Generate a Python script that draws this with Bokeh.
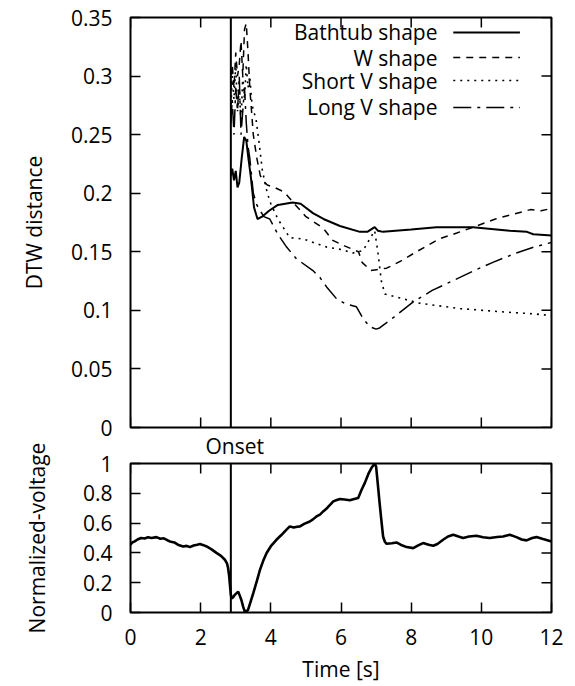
import math
from bokeh.plotting import figure
from bokeh.layouts import column
from bokeh.models import FixedTicker, Span, Label, CustomJSTickFormatter, Title
from bokeh.embed import file_html
from bokeh.resources import INLINE

FONT = "Open Sans"
FS = "21px"

# ---------------- data ----------------
bath_t = [2.86, 2.9, 2.95, 3.0, 3.05, 3.1, 3.17, 3.24, 3.3, 3.36, 3.43, 3.52, 3.62, 3.75, 3.95,
          4.2, 4.62, 4.85, 5.2, 5.5, 5.97, 6.54, 6.75, 6.96, 7.05, 7.2, 8.0, 8.72, 9.76, 10.81,
          11.3, 11.48, 12.0]
bath_v = [0.215, 0.221, 0.211, 0.219, 0.205, 0.209, 0.23, 0.248, 0.245, 0.23, 0.214, 0.188,
          0.178, 0.18, 0.185, 0.19, 0.192, 0.191, 0.183, 0.178, 0.172, 0.167, 0.167, 0.171,
          0.168, 0.167, 0.169, 0.171, 0.171, 0.168, 0.167, 0.165, 0.164]

w_t = [2.86, 2.9, 2.95, 3.0, 3.05, 3.1, 3.15, 3.2, 3.25, 3.3, 3.35, 3.4, 3.45, 3.5, 3.6, 3.7,
       3.8, 3.9, 4.1, 4.38, 4.7, 5.0, 5.5, 5.75, 6.1, 6.5, 6.6, 6.85, 7.3, 7.7, 8.15, 8.8, 9.3,
       9.86, 10.4, 10.9, 11.4, 11.7, 12.0]
w_v = [0.29, 0.31, 0.29, 0.32, 0.30, 0.31, 0.33, 0.30, 0.34, 0.345, 0.32, 0.29, 0.27, 0.25,
       0.23, 0.215, 0.21, 0.207, 0.205, 0.201, 0.19, 0.18, 0.17, 0.16, 0.155, 0.15, 0.141,
       0.134, 0.136, 0.142, 0.15, 0.161, 0.166, 0.172, 0.178, 0.182, 0.186, 0.185, 0.187]

sv_t = [2.86, 2.9, 2.95, 3.0, 3.05, 3.1, 3.15, 3.2, 3.25, 3.3, 3.35, 3.4, 3.45, 3.5, 3.57,
        3.67, 3.76, 3.9, 4.0, 4.2, 4.54, 4.92, 5.3, 5.59, 6.0, 6.34, 6.63, 6.8, 6.96, 7.05,
        7.15, 7.25, 7.5, 8.25, 9.4, 10.7, 11.5, 12.0]
sv_v = [0.27, 0.30, 0.28, 0.31, 0.27, 0.29, 0.26, 0.30, 0.28, 0.31, 0.29, 0.30, 0.28, 0.27,
        0.265, 0.242, 0.219, 0.2, 0.191, 0.178, 0.162, 0.161, 0.157, 0.154, 0.152, 0.149,
        0.151, 0.16, 0.168, 0.15, 0.125, 0.114, 0.112, 0.106, 0.1015, 0.0985, 0.097, 0.0955]

lv_t = [2.86, 2.9, 2.95, 3.0, 3.05, 3.1, 3.15, 3.2, 3.25, 3.3, 3.35, 3.4, 3.45, 3.5, 3.6, 3.7,
        3.8, 3.97, 4.2, 4.45, 4.73, 5.2, 5.4, 5.59, 5.87, 6.1, 6.44, 6.63, 6.82, 7.0, 7.1, 7.5,
        8.05, 8.6, 9.2, 9.8, 10.33, 11.0, 11.5, 12.0]
lv_v = [0.26, 0.28, 0.25, 0.29, 0.27, 0.30, 0.25, 0.27, 0.29, 0.26, 0.24, 0.23, 0.215, 0.2,
        0.19, 0.185, 0.18, 0.178, 0.165, 0.154, 0.144, 0.134, 0.128, 0.12, 0.11, 0.106, 0.103,
        0.093, 0.086, 0.084, 0.085, 0.094, 0.107, 0.117, 0.1255, 0.134, 0.141, 0.149, 0.154,
        0.158]

volt_t = [0.0, 0.05, 0.12, 0.2, 0.3, 0.4, 0.5, 0.6, 0.74, 0.85, 0.95, 1.05, 1.12, 1.25, 1.35,
          1.5, 1.6, 1.69, 1.8, 1.9, 1.98, 2.08, 2.17, 2.3, 2.45, 2.58, 2.69, 2.75, 2.78, 2.81,
          2.83, 2.86, 2.88, 2.92, 2.98, 3.07, 3.12, 3.16, 3.21, 3.26, 3.31, 3.35, 3.42, 3.5,
          3.6, 3.69, 3.78, 3.88, 4.0, 4.16, 4.3, 4.42, 4.54, 4.65, 4.75, 4.83, 4.95, 5.11, 5.2,
          5.3, 5.4, 5.5, 5.6, 5.7, 5.78, 5.88, 5.97, 6.1, 6.25, 6.35, 6.49, 6.58, 6.68, 6.78,
          6.87, 6.93, 6.96, 7.0, 7.05, 7.1, 7.15, 7.2, 7.25, 7.3, 7.45, 7.58, 7.7, 7.87, 8.06,
          8.2, 8.34, 8.5, 8.63, 8.75, 8.91, 9.05, 9.2, 9.35, 9.48, 9.65, 9.86, 10.05, 10.24,
          10.45, 10.62, 10.81, 11.0, 11.15, 11.29, 11.45, 11.57, 11.76, 11.88, 12.0]
volt_v = [0.455, 0.47, 0.477, 0.49, 0.50, 0.497, 0.505, 0.50, 0.506, 0.495, 0.498, 0.485, 0.477,
          0.47, 0.455, 0.443, 0.447, 0.439, 0.45, 0.455, 0.46, 0.452, 0.443, 0.425, 0.40, 0.38,
          0.354, 0.33, 0.30, 0.25, 0.197, 0.12, 0.096, 0.10, 0.12, 0.14, 0.11, 0.084, 0.04,
          0.005, 0.01, 0.017, 0.07, 0.13, 0.21, 0.286, 0.345, 0.399, 0.445, 0.488, 0.52, 0.55,
          0.578, 0.57, 0.575, 0.578, 0.595, 0.611, 0.625, 0.645, 0.657, 0.68, 0.70, 0.725,
          0.746, 0.755, 0.762, 0.758, 0.753, 0.76, 0.769, 0.82, 0.87, 0.93, 0.971, 0.99, 1.0,
          0.98, 0.86, 0.735, 0.62, 0.51, 0.475, 0.461, 0.465, 0.47, 0.455, 0.439, 0.432, 0.45,
          0.466, 0.455, 0.448, 0.46, 0.488, 0.51, 0.522, 0.51, 0.50, 0.51, 0.515, 0.505, 0.50,
          0.507, 0.51, 0.522, 0.506, 0.49, 0.484, 0.5, 0.506, 0.493, 0.485, 0.477]

onset_t = 2.86
x_ticks = [0, 2, 4, 6, 8, 10, 12]
dtw_ticks = [0, 0.05, 0.1, 0.15, 0.2, 0.25, 0.3, 0.35]
volt_ticks = [0, 0.2, 0.4, 0.6, 0.8, 1.0]

series_names = ["Bathtub shape", "W shape", "Short V shape", "Long V shape"]
series_dash = ["solid", "7 6", "2 5", "18 6 3 6"]
series_width = [2.0, 1.5, 1.6, 1.5]

fmt = CustomJSTickFormatter(code="return parseFloat(tick.toFixed(2)).toString();")


def style_axis(ax, ticks):
    ax.ticker = FixedTicker(ticks=ticks)
    ax.axis_line_color = None
    ax.major_tick_in = 10
    ax.major_tick_out = 0
    ax.major_tick_line_width = 1.5
    ax.major_tick_line_color = "black"
    ax.minor_tick_line_color = None
    ax.major_label_text_font = FONT
    ax.major_label_text_font_size = FS
    ax.major_label_text_color = "black"
    ax.axis_label_text_font = FONT
    ax.axis_label_text_font_size = FS
    ax.axis_label_text_font_style = "normal"
    ax.axis_label_text_color = "black"


def base_style(p):
    p.background_fill_color = "white"
    p.outline_line_color = "black"
    p.outline_line_width = 2
    p.xgrid.visible = False
    p.ygrid.visible = False


def mirror_ticks(p, xt, yt, xmax, ymin, ymax, bottom=False):
    # inward tick marks on the top (and optionally bottom) and right edges
    p.scatter(x=xt, y=[ymax] * len(xt), marker="dash", angle=math.pi / 2, size=20,
              line_color="black", line_width=1.5)
    if bottom:
        p.scatter(x=xt, y=[ymin] * len(xt), marker="dash", angle=math.pi / 2, size=20,
                  line_color="black", line_width=1.5)
    p.scatter(x=[xmax] * len(yt), y=yt, marker="dash", size=20,
              line_color="black", line_width=1.5)


# ---------------- top: DTW distance ----------------
p1 = figure(width=575, height=467, x_range=(0, 12), y_range=(0, 0.35),
            min_border_left=130, min_border_right=24, min_border_top=17, min_border_bottom=40,
            output_backend="svg", toolbar_location=None)
base_style(p1)
p1.border_fill_color = "white"
p1.xaxis.visible = False
yax1 = p1.yaxis[0]
style_axis(yax1, dtw_ticks)
yax1.formatter = fmt
yax1.major_label_standoff = 18
yax1.axis_label = "DTW distance"
yax1.axis_label_standoff = 20
mirror_ticks(p1, x_ticks, dtw_ticks, 12, 0, 0.35, bottom=True)

series = [(bath_t, bath_v), (w_t, w_v), (sv_t, sv_v), (lv_t, lv_v)]
for (tt, vv), dash, lw in zip(series, series_dash, series_width):
    p1.line(tt, vv, line_color="black", line_width=lw, line_dash=dash)

p1.add_layout(Span(location=onset_t, dimension="height", line_color="black", line_width=2))

# "Onset" text sits between the two panels, above the onset line
p1.add_layout(Title(text="Onset", align="left", offset=75, standoff=4, text_font=FONT,
                    text_font_size=FS, text_font_style="normal", text_color="black"), "below")

# legend: text right-aligned with the sample line on its right
leg_text_x = 8.75
leg_line_x = [9.2, 11.1]
leg_rows = [0.3372, 0.3158, 0.2962, 0.2732]
for name, dash, lw, yy in zip(series_names, series_dash, series_width, leg_rows):
    p1.add_layout(Label(x=leg_text_x, y=yy, text=name, text_align="right",
                        text_baseline="middle", text_font=FONT, text_font_size=FS,
                        text_color="black"))
    p1.line(leg_line_x, [yy, yy], line_color="black", line_width=lw, line_dash=dash)

# ---------------- bottom: normalized voltage ----------------
p2 = figure(width=575, height=252, x_range=(0, 12), y_range=(0, 1),
            min_border_left=130, min_border_right=24, min_border_top=30, min_border_bottom=73,
            output_backend="svg", toolbar_location=None)
base_style(p2)
p2.border_fill_color = None
p2.styles = {"margin-top": "-34px"}
xax2 = p2.xaxis[0]
yax2 = p2.yaxis[0]
style_axis(xax2, x_ticks)
style_axis(yax2, volt_ticks)
yax2.formatter = fmt
yax2.major_label_standoff = 18
yax2.axis_label = "Normalized-voltage"
yax2.axis_label_standoff = 29
xax2.axis_label = "Time [s]"
xax2.major_label_standoff = 16
xax2.axis_label_standoff = 7
mirror_ticks(p2, x_ticks, volt_ticks, 12, 0, 1.0)

p2.line(volt_t, volt_v, line_color="black", line_width=2.6)
p2.add_layout(Span(location=onset_t, dimension="height", line_color="black", line_width=2))

layout = column(p1, p2)
open("out.html", "w").write(file_html(layout, INLINE))
